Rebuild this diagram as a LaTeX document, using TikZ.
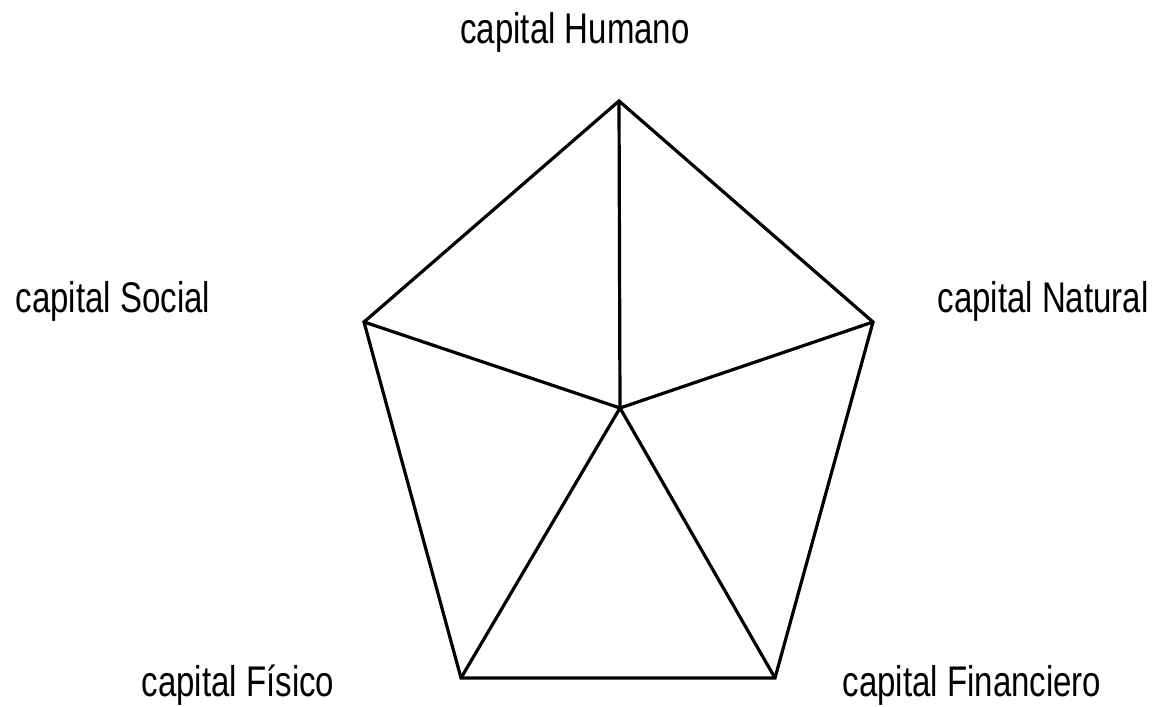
\documentclass[tikz,border=0pt]{standalone}
\usepackage{fontspec}
\setmainfont{Liberation Sans}
\begin{document}
\begin{tikzpicture}[x=1pt, y=1pt, line width=3.2pt, line join=miter,
        every node/.style={anchor=base, inner sep=0pt, font=\fontsize{33}{40}\selectfont, yscale=1.3, transform shape}]
        \useasboundingbox (0,0) rectangle (1160,707);
        \coordinate (H) at (619,606);
        \coordinate (N) at (873,385);
        \coordinate (Fi) at (775,29);
        \coordinate (Fs) at (461,29);
        \coordinate (S) at (364,385);
        \coordinate (C) at (620,299);
        \node (humano) at (575,663) {capital Humano};
        \node (social) at (113,394) {capital Social};
        \node (natural) at (1043,394) {capital Natural};
        \node (fisico) at (238,10) {capital Físico};
        \node (financiero) at (972,10) {capital Financiero};
        \draw (H) -- (N) -- (Fi) -- (Fs) -- (S) -- cycle;
        \draw (C) -- (H);
        \draw (C) -- (N);
        \draw (C) -- (Fi);
        \draw (C) -- (Fs);
        \draw (C) -- (S);
    \end{tikzpicture}
\end{document}
